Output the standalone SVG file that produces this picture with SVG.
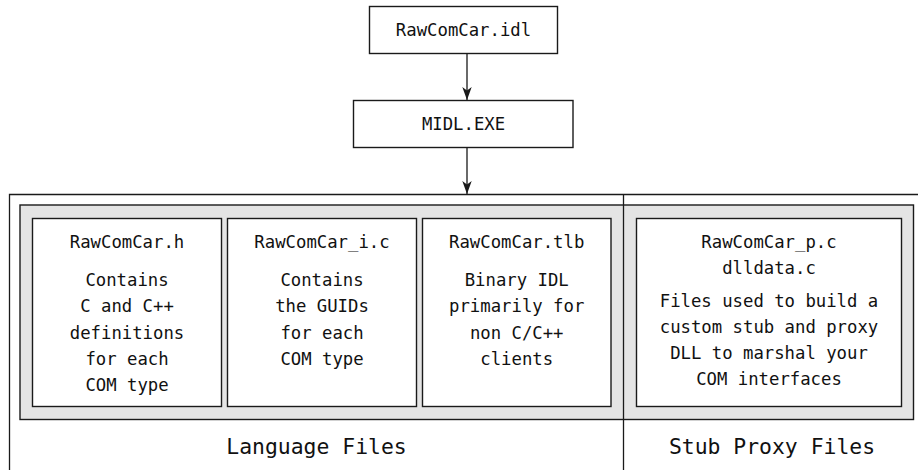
<svg xmlns="http://www.w3.org/2000/svg" width="918" height="470" viewBox="0 0 918 470">
  <style>
    .box { fill: #ffffff; stroke: #1a1a1a; stroke-width: 1.4; }
    .band { fill: #e4e4e4; stroke: #1a1a1a; stroke-width: 1.4; }
    .frame { fill: none; stroke: #1a1a1a; stroke-width: 1.3; }
    .conn { stroke: #1a1a1a; stroke-width: 1.3; fill: none; }
    text { font-family: "DejaVu Sans Mono", "Liberation Mono", monospace; fill: #111111; text-anchor: middle; }
    .t { font-size: 17.3px; }
    .lbl { font-size: 21.4px; }
  </style>
  <defs>
    <marker id="arrow" markerUnits="userSpaceOnUse" markerWidth="14" markerHeight="10" refX="13" refY="4.7" orient="auto">
      <path d="M0,0 L13,4.7 L0,9.4 L3.5,4.7 Z" fill="#1a1a1a"/>
    </marker>
  </defs>

  <g id="frame">
    <rect class="band" x="20" y="205" width="893.5" height="214.5"/>
    <path class="frame" d="M9.5,470 V194.5 H918"/>
    <path class="frame" d="M623.5,194.5 V470"/>
    <text class="lbl" x="316.5" y="454">Language Files</text>
    <text class="lbl" x="772" y="454">Stub Proxy Files</text>
  </g>

  <g id="connectors">
    <line class="conn" x1="467" y1="53.5" x2="467" y2="100" marker-end="url(#arrow)"/>
    <line class="conn" x1="467" y1="147.5" x2="467" y2="194" marker-end="url(#arrow)"/>
  </g>

  <g id="idl">
    <rect class="box" x="369.5" y="6.5" width="188" height="47"/>
    <text class="t" x="463.5" y="36">RawComCar.idl</text>
  </g>

  <g id="midl">
    <rect class="box" x="353.5" y="100.5" width="219.5" height="47"/>
    <text class="t" x="463.5" y="130">MIDL.EXE</text>
  </g>

  <g id="header">
    <rect class="box" x="32.5" y="218.5" width="189" height="188"/>
    <text class="t" x="127" y="248">RawComCar.h</text>
    <text class="t" x="127" y="286">Contains</text>
    <text class="t" x="127" y="312">C and C++</text>
    <text class="t" x="127" y="338.5">definitions</text>
    <text class="t" x="127" y="364.5">for each</text>
    <text class="t" x="127" y="391">COM type</text>
  </g>

  <g id="guids">
    <rect class="box" x="227.5" y="218.5" width="189" height="188"/>
    <text class="t" x="322" y="248">RawComCar_i.c</text>
    <text class="t" x="322" y="286">Contains</text>
    <text class="t" x="322" y="312">the GUIDs</text>
    <text class="t" x="322" y="338.5">for each</text>
    <text class="t" x="322" y="364.5">COM type</text>
  </g>

  <g id="tlb">
    <rect class="box" x="422.5" y="218.5" width="188.5" height="188"/>
    <text class="t" x="516.7" y="248">RawComCar.tlb</text>
    <text class="t" x="516.7" y="286">Binary IDL</text>
    <text class="t" x="516.7" y="312">primarily for</text>
    <text class="t" x="516.7" y="338.5">non C/C++</text>
    <text class="t" x="516.7" y="364.5">clients</text>
  </g>

  <g id="proxy">
    <rect class="box" x="636.5" y="218.5" width="265" height="188"/>
    <text class="t" x="769" y="248">RawComCar_p.c</text>
    <text class="t" x="769" y="274">dlldata.c</text>
    <text class="t" x="769" y="307">Files used to build a</text>
    <text class="t" x="769" y="333">custom stub and proxy</text>
    <text class="t" x="769" y="359">DLL to marshal your</text>
    <text class="t" x="769" y="385">COM interfaces</text>
  </g>
</svg>
